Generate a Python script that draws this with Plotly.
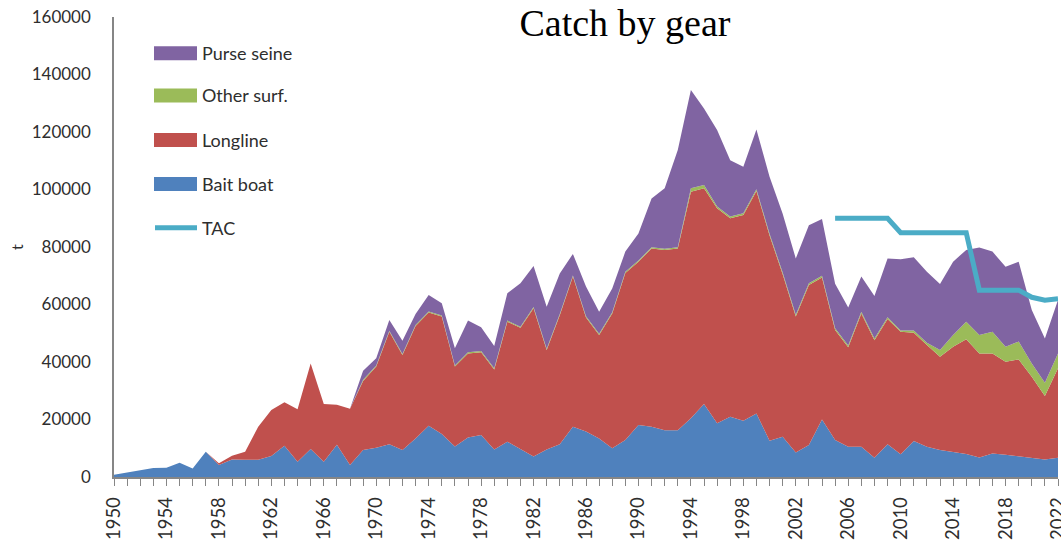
import plotly.graph_objects as go

# ---------------- data ----------------
years = list(range(1950, 2023))

bait_boat = [800, 1600, 2200, 3100, 3200, 5000, 3000, 8800, 4200, 6100,
             6000, 6000, 7300, 10900, 5300, 9700, 5300, 11200, 4200, 9400,
             10200, 11400, 9400, 13400, 17800, 15000, 10600, 13700, 14600, 9600,
             12300, 9800, 7100, 9600, 11400, 17500, 15800, 13400, 10000, 12900,
             18100, 17500, 16300, 16300, 20400, 25400, 18700, 21000, 19600, 22100,
             12600, 14000, 8500, 11100, 20000, 12900, 10500, 10500, 6700, 11400,
             7900, 12500, 10500, 9400, 8800, 8000, 6800, 8200, 7700, 7100,
             6700, 6100, 6700]

longline = [0, 0, 0, 0, 0, 0, 0, 0, 600, 1300,
            2800, 11500, 16000, 15100, 18300, 29800, 20100, 13900, 19500, 24000,
            28200, 39100, 33000, 39100, 39400, 40800, 27800, 29300, 28800, 27800,
            41700, 42100, 51600, 34600, 44900, 52200, 39700, 36000, 46900, 58100,
            56800, 62000, 62700, 63200, 78800, 75000, 74800, 69000, 71500, 77400,
            71400, 56500, 47300, 55700, 49400, 38200, 34600, 46400, 40900, 43600,
            42600, 37700, 35400, 32400, 36500, 39900, 36200, 34800, 32400, 33800,
            28200, 22100, 31100]

other_surf = [0, 0, 0, 0, 0, 0, 0, 0, 0, 0,
              0, 0, 0, 0, 0, 0, 0, 0, 0, 400,
              400, 400, 400, 400, 400, 400, 400, 400, 400, 400,
              400, 400, 400, 400, 400, 400, 400, 400, 400, 400,
              400, 400, 400, 400, 1200, 1200, 600, 600, 600, 600,
              600, 600, 600, 600, 600, 600, 600, 600, 600, 600,
              500, 800, 800, 2400, 4100, 6100, 6400, 7500, 5200, 6200,
              4600, 4600, 5200]

purse_seine = [0, 0, 0, 0, 0, 0, 0, 0, 0, 0,
               0, 0, 0, 0, 0, 0, 0, 0, 0, 3200,
               2500, 3700, 4600, 3800, 5700, 4200, 6000, 11000, 8300, 7800,
               9500, 15100, 14300, 14600, 14100, 7500, 10400, 7700, 8300, 7000,
               9400, 17000, 21000, 33800, 34200, 26600, 26600, 19600, 16200, 20800,
               19800, 20500, 19600, 20200, 19700, 15500, 13300, 12200, 14800, 20400,
               24700, 25400, 24700, 22900, 25500, 25000, 30400, 27900, 27800, 27800,
               18600, 15400, 18600]

tac_years = [2005, 2006, 2007, 2008, 2009, 2010, 2011, 2012, 2013, 2014,
             2015, 2016, 2017, 2018, 2019, 2020, 2021, 2022]
tac = [90000, 90000, 90000, 90000, 90000, 85000, 85000, 85000, 85000, 85000,
       85000, 65000, 65000, 65000, 65000, 62500, 61500, 62000]

y_ticks = [0, 20000, 40000, 60000, 80000, 100000, 120000, 140000, 160000]
x_label_years = [1950, 1954, 1958, 1962, 1966, 1970, 1974, 1978, 1982, 1986,
                 1990, 1994, 1998, 2002, 2006, 2010, 2014, 2018, 2022]

series_names = ["Bait boat", "Longline", "Other surf.", "Purse seine"]
series_values = [bait_boat, longline, other_surf, purse_seine]
series_colors = ["#4F81BD", "#C0504D", "#9BBB59", "#8064A2"]
tac_color = "#4BACC6"

# ---------------- figure ----------------
W, H = 1061, 543
ML, MR, MT, MB = 114, 3, 17, 66
PW, PH = W - ML - MR, H - MT - MB

fig = go.Figure()
for name, vals, col in zip(series_names, series_values, series_colors):
    fig.add_trace(go.Scatter(
        x=years, y=vals, name=name, mode="lines", stackgroup="gear",
        line=dict(width=0, color=col), fillcolor=col, showlegend=False,
    ))

fig.add_trace(go.Scatter(
    x=tac_years, y=tac, name="TAC", mode="lines",
    line=dict(width=5, color=tac_color), showlegend=False,
))

axis_grey = "#868686"
text_col = "#2e2e2e"
y_tick_font = dict(family="Lato, Liberation Sans, sans-serif", size=17, color=text_col)
x_tick_font = dict(family="Lato, Liberation Sans, sans-serif", size=18.5, color=text_col)

fig.update_layout(
    width=W, height=H,
    margin=dict(l=ML, r=MR, t=MT, b=MB, pad=0, autoexpand=False),
    paper_bgcolor="white", plot_bgcolor="white",
    showlegend=False,
    title=dict(
        text="Catch by gear",
        font=dict(family="Liberation Serif, Times New Roman, serif", size=38, color="black"),
        x=(625 - ML) / PW, xref="paper", xanchor="center",
        y=1 - 23 / H, yref="container", yanchor="middle", automargin=False,
    ),
    xaxis=dict(
        range=[1950, 2022], showgrid=False, zeroline=False, automargin=False,
        showline=True, linecolor=axis_grey, linewidth=1.5,
        tickmode="array", tickvals=x_label_years,
        ticktext=[str(v) for v in x_label_years],
        ticks="outside", ticklen=7, tickcolor=axis_grey, tickwidth=1.2,
        minor=dict(dtick=1, tick0=1950, ticks="outside", ticklen=7,
                   tickcolor=axis_grey, tickwidth=1.2),
        tickangle=-90, tickfont=x_tick_font, ticklabelstandoff=4,
        ticklabeloverflow="allow",
    ),
    yaxis=dict(
        range=[0, 160000], showgrid=False, zeroline=False, automargin=False,
        showline=True, linecolor=axis_grey, linewidth=1.5,
        tickmode="array", tickvals=y_ticks, ticktext=[str(v) for v in y_ticks],
        ticks="", tickfont=y_tick_font, ticklabelstandoff=18,
        title=dict(text="t", font=dict(family="Lato, Liberation Sans, sans-serif",
                                       size=16, color=text_col), standoff=4),
    ),
)

# ---------------- manual legend ----------------
def px_x(px):
    return (px - ML) / PW

def px_y(py):
    return (H - MB - py) / PH

legend_items = [("Purse seine", "#8064A2", 53.3),
                ("Other surf.", "#9BBB59", 95.5),
                ("Longline", "#C0504D", 140.0),
                ("Bait boat", "#4F81BD", 184.0)]
for label, col, cy in legend_items:
    fig.add_shape(type="rect", xref="paper", yref="paper",
                  x0=px_x(154), x1=px_x(197), y0=px_y(cy + 7), y1=px_y(cy - 7),
                  fillcolor=col, line=dict(width=0))
    fig.add_annotation(text=label, xref="paper", yref="paper",
                       x=px_x(200), y=px_y(cy), xanchor="left", yanchor="middle",
                       showarrow=False,
                       font=dict(family="Lato, Liberation Sans, sans-serif", size=18, color=text_col))

fig.add_shape(type="line", xref="paper", yref="paper",
              x0=px_x(155), x1=px_x(197), y0=px_y(227.7), y1=px_y(227.7),
              line=dict(color=tac_color, width=5))
fig.add_annotation(text="TAC", xref="paper", yref="paper",
                   x=px_x(200), y=px_y(227.7), xanchor="left", yanchor="middle",
                   showarrow=False,
                   font=dict(family="Lato, Liberation Sans, sans-serif", size=18, color=text_col))

fig.write_html(
    "out.html",
    config={"displayModeBar": False},
    post_script="document.body.style.margin='0';document.body.style.overflow='hidden';",
)
